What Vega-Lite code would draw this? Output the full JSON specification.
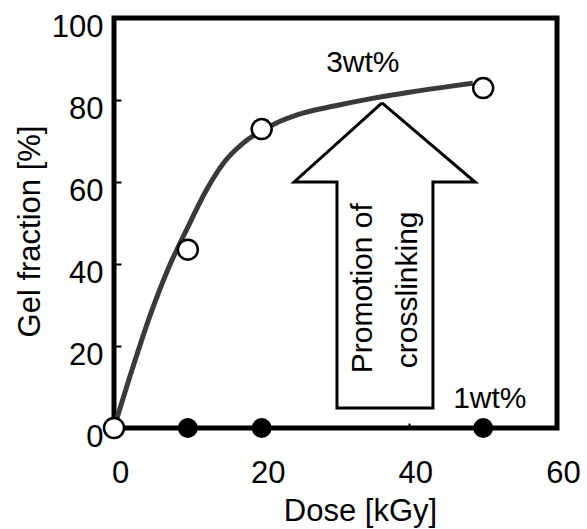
{
  "$schema": "https://vega.github.io/schema/vega-lite/v6.json",
  "width": 443,
  "height": 410,
  "autosize": {"type": "none"},
  "padding": {"left": 114, "top": 18, "right": 30, "bottom": 101},
  "background": "white",
  "config": {
    "font": "Liberation Sans",
    "view": {"stroke": "black", "strokeWidth": 5},
    "axis": {
      "domain": false,
      "grid": false,
      "tickColor": "black",
      "tickWidth": 2,
      "labelColor": "black",
      "labelFontSize": 31,
      "labelFlush": false,
      "labelOverlap": false,
      "titleColor": "black",
      "titleFontSize": 31,
      "titleFontWeight": "normal"
    }
  },
  "datasets": {
    "curve": [
      {"dose": 0, "value": 0},
      {"dose": 2.5, "value": 14.5},
      {"dose": 5, "value": 28},
      {"dose": 7.5, "value": 39.5},
      {"dose": 10, "value": 49},
      {"dose": 12.5, "value": 58},
      {"dose": 15, "value": 65},
      {"dose": 17.5, "value": 69.5},
      {"dose": 20, "value": 72.5},
      {"dose": 22.5, "value": 74.8},
      {"dose": 25, "value": 76.5},
      {"dose": 30, "value": 78.6},
      {"dose": 35, "value": 80.4},
      {"dose": 40, "value": 81.9},
      {"dose": 45, "value": 83.2},
      {"dose": 48.6, "value": 84.1}
    ],
    "arrow": [
      {"dose": 36.3, "value": 79.3, "ord": 1},
      {"dose": 48.9, "value": 60.0, "ord": 2},
      {"dose": 43.2, "value": 60.0, "ord": 3},
      {"dose": 43.2, "value": 4.9, "ord": 4},
      {"dose": 30.2, "value": 4.9, "ord": 5},
      {"dose": 30.2, "value": 60.0, "ord": 6},
      {"dose": 24.4, "value": 60.0, "ord": 7},
      {"dose": 36.3, "value": 79.3, "ord": 8}
    ],
    "wt1": [
      {"dose": 0, "value": 0},
      {"dose": 10, "value": 0},
      {"dose": 20, "value": 0},
      {"dose": 50, "value": 0}
    ],
    "wt3": [
      {"dose": 0, "value": 0},
      {"dose": 10, "value": 43.5},
      {"dose": 20, "value": 72.9},
      {"dose": 50, "value": 82.9}
    ],
    "labels": [
      {"dose": 33.7, "value": 89.1, "label": "3wt%", "angle": 0},
      {"dose": 50.9, "value": 7.1, "label": "1wt%", "angle": 0},
      {"dose": 33.7, "value": 34.1, "label": "Promotion of", "angle": 270},
      {"dose": 39.8, "value": 33.7, "label": "crosslinking", "angle": 270}
    ]
  },
  "encoding": {
    "x": {
      "field": "dose",
      "type": "quantitative",
      "scale": {"domain": [0, 60], "nice": false, "zero": false},
      "axis": {
        "title": "Dose [kGy]",
        "values": [0, 20, 40, 60],
        "tickSize": -5,
        "labelPadding": 35,
        "labelOffset": 6,
        "titleX": 246,
        "titleY": 92,
        "titleBaseline": "alphabetic",
        "titleAlign": "center"
      }
    },
    "y": {
      "field": "value",
      "type": "quantitative",
      "scale": {"domain": [0, 100], "nice": false},
      "axis": {
        "title": "Gel fraction [%]",
        "values": [0, 20, 40, 60, 80, 100],
        "tickSize": -7,
        "labelPadding": 18,
        "labelOffset": 9,
        "titleX": -84,
        "titleY": 213,
        "titleAngle": -90,
        "titleBaseline": "middle",
        "titleAlign": "center"
      }
    }
  },
  "layer": [
    {
      "data": {"name": "arrow"},
      "mark": {"type": "line", "color": "black", "strokeWidth": 3, "strokeJoin": "miter"},
      "encoding": {"order": {"field": "ord", "type": "quantitative"}}
    },
    {
      "data": {"name": "curve"},
      "mark": {"type": "line", "color": "#3a3a3a", "strokeWidth": 5, "interpolate": "monotone"},
      "encoding": {}
    },
    {
      "data": {"name": "wt1"},
      "mark": {"type": "point", "shape": "circle", "filled": true, "color": "black", "size": 400, "opacity": 1}
    },
    {
      "data": {"name": "wt3"},
      "mark": {"type": "point", "shape": "circle", "filled": true, "fill": "white", "stroke": "black", "strokeWidth": 2.5, "size": 400, "opacity": 1}
    },
    {
      "data": {"name": "labels"},
      "mark": {"type": "text", "fontSize": 30, "color": "black", "align": "center", "baseline": "middle"},
      "encoding": {
        "text": {"field": "label"},
        "angle": {"field": "angle", "type": "quantitative", "scale": null}
      }
    }
  ]
}
